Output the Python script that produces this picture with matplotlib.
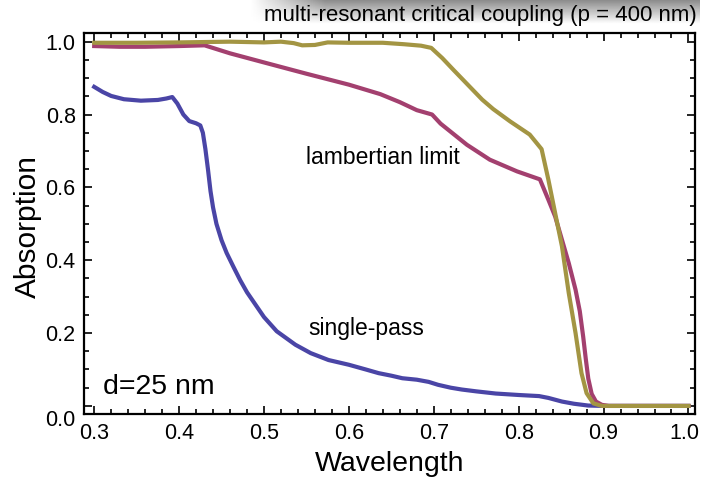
import numpy as np
import matplotlib
matplotlib.use("Agg")
import matplotlib.pyplot as plt
from matplotlib.ticker import MultipleLocator
import matplotlib.transforms as mtransforms

plt.rcParams['font.family'] = ['Liberation Sans', 'DejaVu Sans']

# ---- data ----
wl_single = [0.300, 0.310, 0.320, 0.335, 0.355, 0.375, 0.385, 0.392, 0.398, 0.405,
             0.412, 0.420, 0.425, 0.428, 0.431, 0.434, 0.437, 0.440, 0.444, 0.450,
             0.456, 0.464, 0.472, 0.480, 0.490, 0.500, 0.515, 0.537, 0.555, 0.576,
             0.600, 0.620, 0.635, 0.650, 0.663, 0.680, 0.694, 0.705, 0.720, 0.733,
             0.750, 0.773, 0.800, 0.824, 0.835, 0.851, 0.865, 0.882, 0.900, 1.000]
abs_single = [0.876, 0.862, 0.851, 0.842, 0.838, 0.840, 0.844, 0.848, 0.830, 0.800,
              0.782, 0.776, 0.770, 0.750, 0.705, 0.650, 0.590, 0.545, 0.500, 0.455,
              0.420, 0.382, 0.345, 0.312, 0.278, 0.244, 0.205, 0.168, 0.145, 0.126,
              0.113, 0.100, 0.090, 0.083, 0.076, 0.072, 0.066, 0.058, 0.050, 0.045,
              0.040, 0.034, 0.030, 0.027, 0.022, 0.012, 0.006, 0.001, 0.000, 0.000]

wl_lamb = [0.300, 0.330, 0.360, 0.400, 0.430, 0.460, 0.500, 0.550, 0.600, 0.637,
           0.660, 0.680, 0.698, 0.708, 0.739, 0.766, 0.798, 0.825, 0.835, 0.843,
           0.851, 0.859, 0.867, 0.872, 0.876, 0.879, 0.882, 0.886, 0.891, 0.898,
           0.906, 1.000]
abs_lamb = [0.988, 0.986, 0.986, 0.988, 0.990, 0.968, 0.943, 0.912, 0.882, 0.856,
            0.834, 0.812, 0.800, 0.775, 0.717, 0.676, 0.644, 0.622, 0.566, 0.520,
            0.456, 0.392, 0.319, 0.260, 0.190, 0.130, 0.075, 0.033, 0.012, 0.003,
            0.000, 0.000]

wl_multi = [0.300, 0.350, 0.400, 0.430, 0.460, 0.500, 0.520, 0.535, 0.545, 0.560,
            0.575, 0.600, 0.640, 0.665, 0.685, 0.697, 0.710, 0.723, 0.740, 0.757,
            0.770, 0.790, 0.813, 0.827, 0.835, 0.843, 0.851, 0.859, 0.867, 0.874,
            0.880, 0.888, 0.898, 1.000]
abs_multi = [0.997, 0.997, 0.998, 0.999, 1.000, 0.998, 1.000, 0.996, 0.990, 0.991,
             0.998, 0.997, 0.997, 0.993, 0.989, 0.983, 0.955, 0.923, 0.882, 0.841,
             0.815, 0.781, 0.745, 0.705, 0.621, 0.529, 0.438, 0.310, 0.200, 0.090,
             0.035, 0.007, 0.000, 0.000]

x_ticks = [0.3, 0.4, 0.5, 0.6, 0.7, 0.8, 0.9, 1.0]
y_ticks = [0.0, 0.2, 0.4, 0.6, 0.8, 1.0]

c_blue = '#4a45a6'
c_mag = '#a3406f'
c_olive = '#a39543'

W, H = 702, 482
fig = plt.figure(figsize=(W / 100, H / 100), dpi=100)

# title banner gradient (subtle shadow)
bax = fig.add_axes([250 / W, 1 - 24 / H, (700 - 250) / W, 24 / H])
bax.set_axis_off()
grad = np.linspace(0.55, 1.0, 40)[:, None] * np.ones((1, 200))
hfade = np.clip(np.linspace(0, 6, 200), 0, 1)[None, :]
img = 1 - (1 - grad) * hfade
bax.imshow(img, cmap='gray', vmin=0, vmax=1, aspect='auto', extent=[0, 1, 0, 1])

ax = fig.add_axes([84 / W, 1 - 414.3 / H, (695 - 84) / W, (414.3 - 33.3) / H])
ax.plot(wl_single, abs_single, color=c_blue, lw=3.0, solid_joinstyle='round')
ax.plot(wl_lamb, abs_lamb, color=c_mag, lw=3.0, solid_joinstyle='round')
ax.plot(wl_multi, abs_multi, color=c_olive, lw=3.0, solid_joinstyle='round')

ax.set_xlim(0.288, 1.0077)
ax.set_ylim(-0.023, 1.023)
ax.set_xticks(x_ticks)
ax.set_yticks(y_ticks)
ax.set_xticklabels([f"{v:.1f}" for v in x_ticks])
ax.set_yticklabels([f"{v:.1f}" for v in y_ticks])
ax.xaxis.set_minor_locator(MultipleLocator(0.02))
ax.yaxis.set_minor_locator(MultipleLocator(0.05))
ax.tick_params(which='both', direction='in', top=True, right=True, width=1.2, colors='black')
ax.tick_params(which='major', length=6, labelsize=15.5, pad=6)
ax.tick_params(which='minor', length=3.5)
for s in ax.spines.values():
    s.set_linewidth(1.6)

# shift the 0.0 y label down a little like the original
lbl0 = ax.get_yticklabels()[0]
lbl0.set_transform(lbl0.get_transform() + mtransforms.ScaledTranslation(0, -12 / 100, fig.dpi_scale_trans))
# keep last x label inside the picture
lblx = ax.get_xticklabels()[-1]
lblx.set_transform(lblx.get_transform() + mtransforms.ScaledTranslation(-4 / 100, 0, fig.dpi_scale_trans))

ax.text(0.549, 0.681, "lambertian limit", fontsize=16.5, va='center', ha='left')
ax.text(0.552, 0.212, "single-pass", fontsize=16.5, va='center', ha='left')
ax.text(0.3106, 0.052, "d=25 nm", fontsize=20.5, va='center', ha='left')

fig.text(697 / W, 1 - 16 / H, "multi-resonant critical coupling (p = 400 nm)",
         fontsize=16, ha='right', va='center')
fig.text(390 / W, 1 - 464 / H, "Wavelength", fontsize=20.5, ha='center', va='center')
fig.text(28 / W, 1 - 226 / H, "Absorption", fontsize=21.5, ha='center', va='center', rotation=90)

fig.savefig("out.png", dpi=100)
